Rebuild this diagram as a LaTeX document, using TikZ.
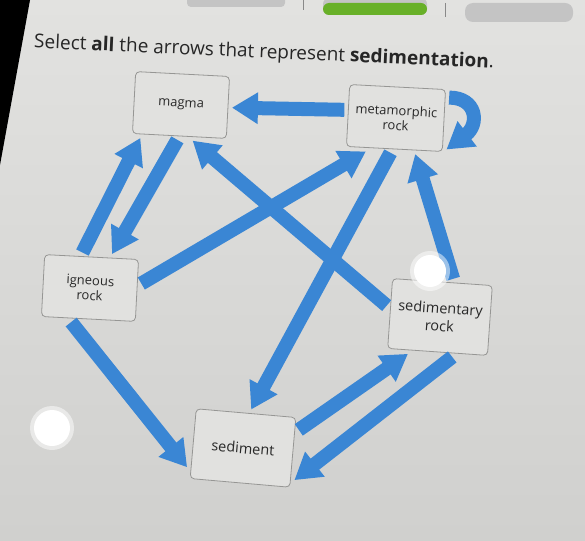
\documentclass[tikz,border=0pt]{standalone}
\usepackage{fontspec}
\setmainfont{Open Sans}
\usepackage{xcolor}
\usepackage{tikz}
\usetikzlibrary{positioning,calc,arrows.meta}

\definecolor{arrowblue}{RGB}{58,134,212}
\definecolor{boxline}{RGB}{150,150,148}
\definecolor{boxfill}{RGB}{225,225,223}
\definecolor{textgray}{RGB}{40,40,40}
\definecolor{bargreen}{RGB}{104,176,40}
\definecolor{bargray}{RGB}{196,196,196}

\begin{document}
\begin{tikzpicture}[x=1pt, y=-1pt,
    rockbox/.style={draw=boxline, line width=0.8pt, fill=boxfill, rounded corners=4pt,
        minimum width=94pt, minimum height=62pt, outer sep=4pt, align=center,
        font=\fontsize{13}{15}\selectfont, text=textgray, rotate=#1},
    rockbox/.default=-3,
    nearbox/.style={minimum width=100pt, minimum height=70pt, font=\fontsize{14.5}{18}\selectfont},
    flow/.style={draw=arrowblue, line width=14pt, -{Triangle[length=26pt,width=30pt]}}]
    % Screen
    \shade[top color={rgb,255:red,226;green,226;blue,224}, bottom color={rgb,255:red,208;green,208;blue,206}] (0,0) rectangle (585,540);
    \useasboundingbox (0,0) rectangle (585,540);
    \fill[black] (0,0) -- (30,0) -- (0,165) -- cycle;

    % Progress bar
    \fill[bargray, rounded corners=4pt] (187,-6) rectangle (285,7);
    \fill[bargray, rounded corners=6pt] (323,-2) rectangle (427,15);
    \fill[bargreen, rounded corners=6pt] (323,3) rectangle (427,15);
    \fill[bargray, rounded corners=8pt] (465,3) rectangle (573,22);
    \draw[bargray!70!black, line width=0.8pt] (303,0) -- (303,10) (445,3) -- (445,17);

    % Question
    \node[rotate=-2.5, text=black!85, font=\fontsize{19}{23}\selectfont] (title) at (264,53)
        {Select \textbf{all} the arrows that represent \textbf{sedimentation}.};

    % Rock cycle
    \node[rockbox] (magma) at (181,105) {magma};
    \node[rockbox, minimum width=96pt] (meta) at (396,118) {metamorphic\\rock};
    \node[rockbox] (igneous) at (90,288) {igneous\\rock};
    \node[rockbox=-4, nearbox] (sedrock) at (440,317) {sedimentary\\rock};
    \node[rockbox=-5, nearbox] (sediment) at (243,448) {sediment};

    \draw[flow] (meta.174) -- (magma.0);
    \draw[flow] (igneous.105) -- (magma.222);
    \draw[flow] (magma.267) -- (igneous.60);
    \draw[flow] (sedrock.172) -- (magma.291);
    \draw[flow] (igneous.8) -- (meta.231);
    \draw[flow] (meta.264) -- (sediment.83);
    \draw[flow] (sedrock.75) -- (meta.301);
    \draw[flow] (meta.24) .. controls +(28,0) and +(33,-25) .. (meta.331);
    \draw[flow] (igneous.244) -- (sediment.204);
    \draw[flow] (sediment.23) -- (sedrock.233);
    \draw[flow] (sedrock.291) -- (sediment.333);

    % Glare
    \fill[white, opacity=0.5] (52,428) circle (22pt);
    \fill[white] (52,428) circle (18pt);
    \fill[white, opacity=0.5] (430,271) circle (20pt);
    \fill[white] (430,271) circle (16pt);
\end{tikzpicture}
\end{document}
